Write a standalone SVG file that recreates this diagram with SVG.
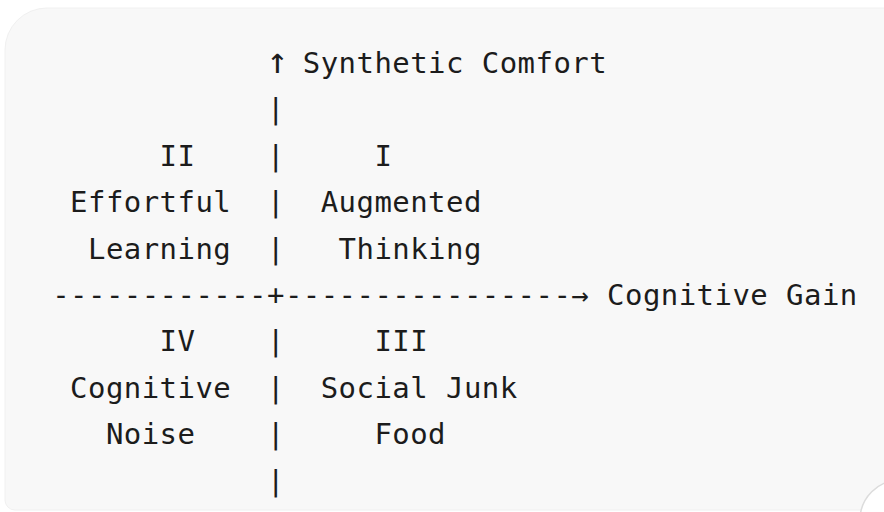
<svg xmlns="http://www.w3.org/2000/svg" width="884" height="512" viewBox="0 0 884 512">
  <style>
    .t { font-family: "DejaVu Sans Mono", "Liberation Mono", monospace; font-size: 29px; letter-spacing: 0.44px; fill: #1c1c1c; white-space: pre; }
    .up { font-size: 36px; letter-spacing: 0; }
  </style>
  <rect x="0" y="0" width="884" height="512" fill="#ffffff"/>
  <!-- card background -->
  <path d="M 5 50 A 42 42 0 0 1 47 8 H 900 V 510 H 15 A 10 10 0 0 1 5 500 Z" fill="#f8f8f8" stroke="#f0f0f0" stroke-width="1"/>
  <!-- round button peeking in at the corner -->
  <circle cx="900" cy="520" r="40" fill="#ffffff" stroke="#dcdcdc" stroke-width="1.5"/>

  <!-- axes drawn as monospace characters; column = 17.9px, row = 46.4px -->
  <g id="axes">
    <text class="t up" x="266.8" y="73">↑</text>
    <text class="t" x="267.02" y="119.4">|</text>
    <text class="t" x="267.02" y="165.8">|</text>
    <text class="t" x="267.02" y="212.2">|</text>
    <text class="t" x="267.02" y="258.6">|</text>
    <text class="t" x="52.22" y="305">------------+----------------→</text>
    <text class="t" x="267.02" y="351.4">|</text>
    <text class="t" x="267.02" y="397.8">|</text>
    <text class="t" x="267.02" y="444.2">|</text>
    <text class="t" x="267.02" y="490.6">|</text>
  </g>

  <g id="label-y">
    <text class="t" x="302.82" y="73">Synthetic Comfort</text>
  </g>
  <g id="label-x">
    <text class="t" x="607.12" y="305">Cognitive Gain</text>
  </g>

  <g id="quadrant-1">
    <text class="t" x="374.42" y="165.8">I</text>
    <text class="t" x="320.72" y="212.2">Augmented</text>
    <text class="t" x="338.62" y="258.6">Thinking</text>
  </g>
  <g id="quadrant-2">
    <text class="t" x="159.62" y="165.8">II</text>
    <text class="t" x="70.12" y="212.2">Effortful</text>
    <text class="t" x="88.02" y="258.6">Learning</text>
  </g>
  <g id="quadrant-3">
    <text class="t" x="374.42" y="351.4">III</text>
    <text class="t" x="320.72" y="397.8">Social Junk</text>
    <text class="t" x="374.42" y="444.2">Food</text>
  </g>
  <g id="quadrant-4">
    <text class="t" x="159.62" y="351.4">IV</text>
    <text class="t" x="70.12" y="397.8">Cognitive</text>
    <text class="t" x="105.92" y="444.2">Noise</text>
  </g>
</svg>
